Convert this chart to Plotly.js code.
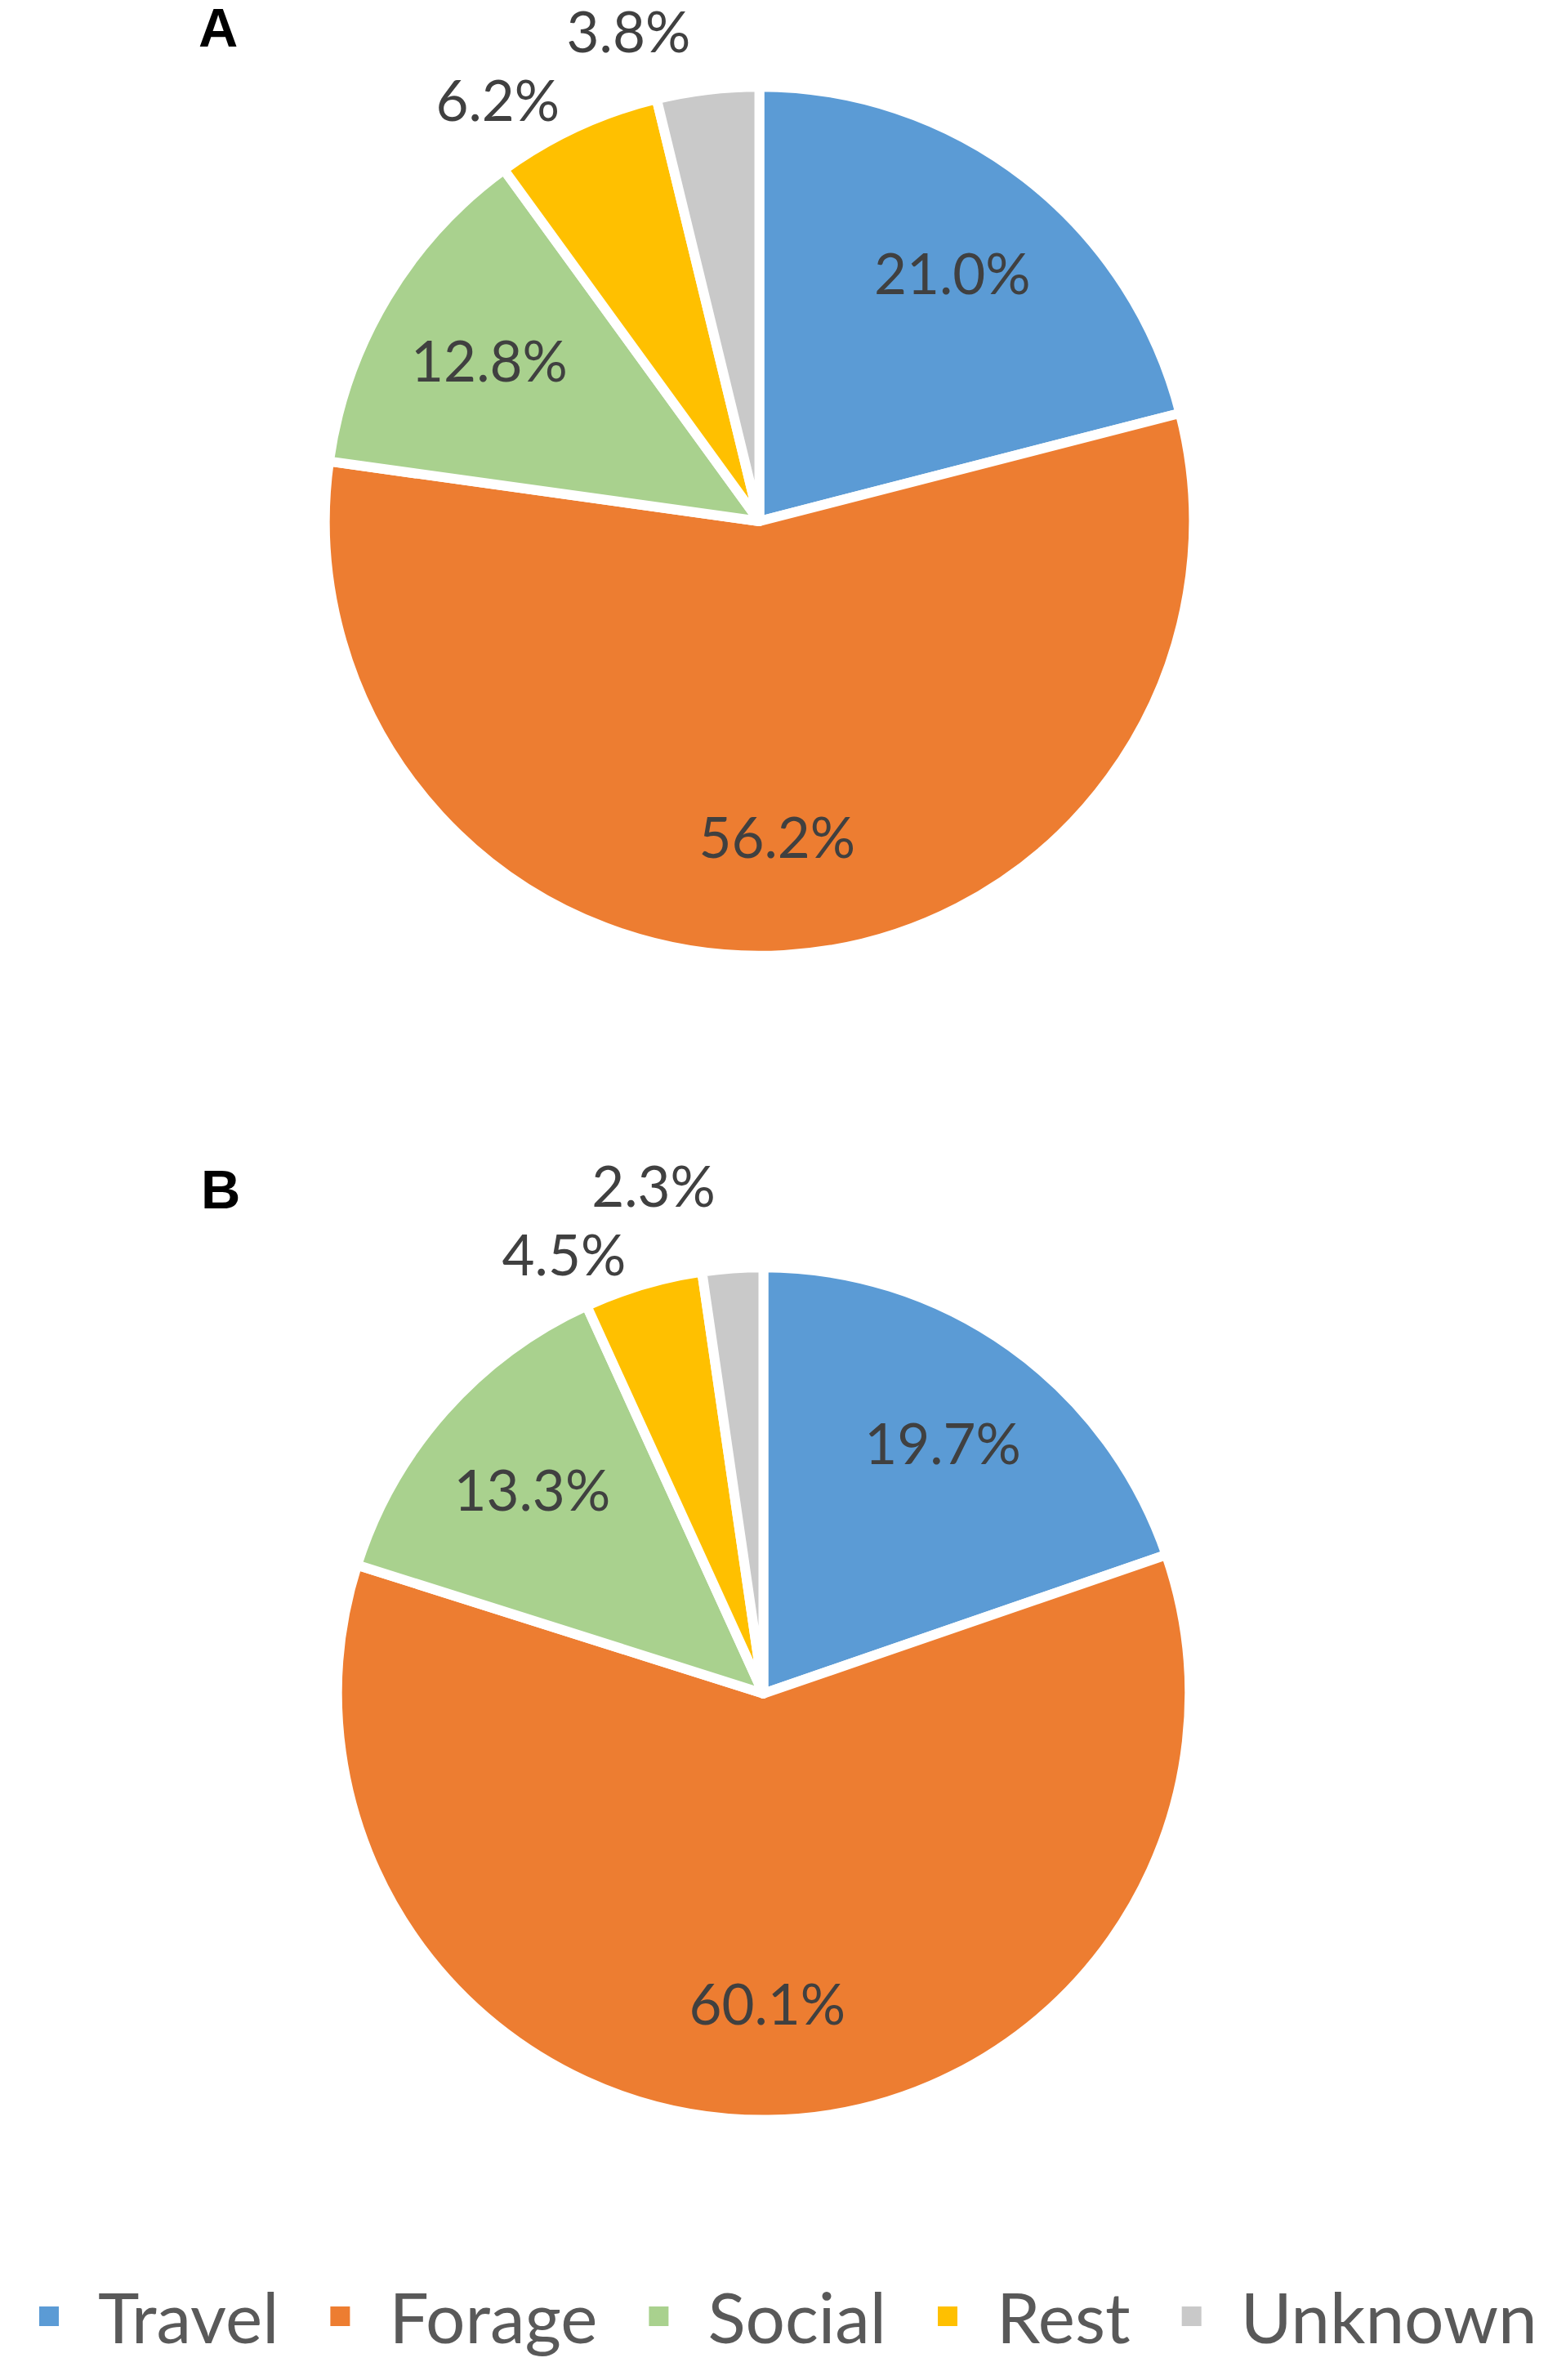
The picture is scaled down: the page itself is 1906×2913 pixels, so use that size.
<!DOCTYPE html>
<html>
<head>
<meta charset="utf-8">
<script src="https://cdn.plot.ly/plotly-3.0.1.min.js"></script>
<style>
  html, body { margin: 0; padding: 0; background: #fff; }
  body { width: 1906px; height: 2913px; }
  /* laid out small and scaled up so the legend squares come out big */
  #chart { transform: scale(3); transform-origin: 0 0; }
</style>
</head>
<body>
<div id="chart"></div>
<script>
const SCALE = 3;
const W = 1906 / SCALE;
const H = 2913 / SCALE;

const behaviours = ['Travel', 'Forage', 'Social', 'Rest', 'Unknown'];
const sharesA = [21.0, 56.2, 12.8, 6.2, 3.8];
const sharesB = [19.7, 60.1, 13.3, 4.5, 2.3];
const colours = ['#5B9BD5', '#ED7D31', '#A9D18E', '#FFC000', '#C9C9C9'];
const textSides = ['inside', 'inside', 'inside', 'outside', 'outside'];
const panelLabels = ['A', 'B'];

const domainA = { x: [0.2088, 0.7671], y: [0.5984, 0.9636] };
const domainB = { x: [0.2167, 0.7644], y: [0.1092, 0.4676] };

// the filled pie, no text
function pieSlices(values, domain) {
  return {
    type: 'pie',
    labels: behaviours,
    values: values,
    sort: false,
    direction: 'clockwise',
    rotation: 0,
    domain: domain,
    marker: { colors: colours, line: { color: '#ffffff', width: 4 } },
    textinfo: 'none',
    hoverinfo: 'label+value'
  };
}

// same pie as a see-through ring on top, only there to carry the labels further out
function pieLabels(values, domain) {
  return {
    type: 'pie',
    labels: behaviours,
    values: values,
    sort: false,
    direction: 'clockwise',
    rotation: 0,
    domain: domain,
    hole: 0.45,
    showlegend: false,
    marker: { colors: behaviours.map(() => 'rgba(0,0,0,0)'), line: { width: 0 } },
    texttemplate: '<span style="fill-opacity:1;color:#404040">%{value:.1f}%</span>',
    textposition: textSides,
    insidetextorientation: 'horizontal',
    textfont: { family: 'Lato, sans-serif', size: 23, color: '#404040' },
    outsidetextfont: { family: 'Lato, sans-serif', size: 23, color: 'rgba(64,64,64,0)' },
    hoverinfo: 'skip'
  };
}

const data = [
  pieSlices(sharesA, domainA),
  pieSlices(sharesB, domainB),
  pieLabels(sharesA, domainA),
  pieLabels(sharesB, domainB)
];

const layout = {
  width: W,
  height: H,
  margin: { l: 0, r: 0, t: 0, b: 0 },
  paper_bgcolor: '#ffffff',
  showlegend: true,
  legend: {
    orientation: 'h',
    x: 0.0,
    xanchor: 'left',
    y: 0.0,
    yanchor: 'bottom',
    font: { family: 'Lato, sans-serif', size: 28.5, color: '#595959' },
    traceorder: 'normal'
  },
  annotations: [
    { text: '<b>' + panelLabels[0] + '</b>', x: 268 / 1906, y: 1 - 34 / 2913 },
    { text: '<b>' + panelLabels[1] + '</b>', x: 270 / 1906, y: 1 - 1457 / 2913 }
  ].map(a => Object.assign(a, {
    xref: 'paper', yref: 'paper', showarrow: false,
    xanchor: 'center', yanchor: 'middle',
    font: { family: 'Liberation Sans, Arial, sans-serif', size: 22.3, color: '#000000' }
  }))
};

Plotly.newPlot('chart', data, layout, { displayModeBar: false, staticPlot: true });
</script>
</body>
</html>
